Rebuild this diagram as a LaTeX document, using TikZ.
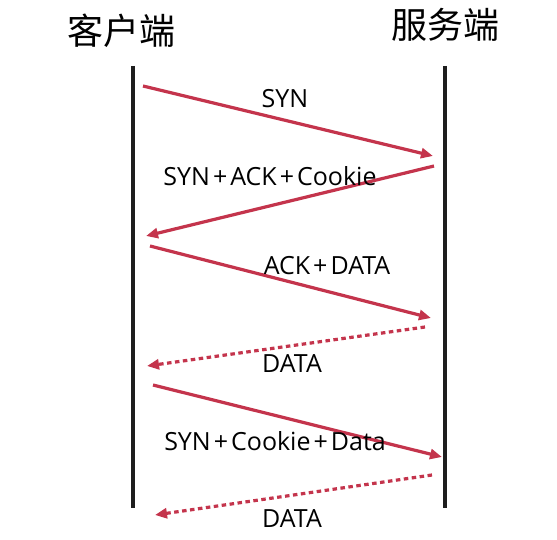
\documentclass[tikz,border=0pt]{standalone}
\usepackage{fontspec}
\setmainfont{Open Sans}
\newfontfamily\cjk{Noto Sans CJK SC}
\usetikzlibrary{arrows.meta}
\definecolor{arrowred}{RGB}{196,52,76}
\definecolor{lifegray}{RGB}{30,30,30}
\newcommand{\pl}{\kern3pt+\kern3pt}
\begin{document}
\begin{tikzpicture}[x=1pt,y=-1pt,
  lifeline/.style={draw=lifegray,line width=3.2pt},
  msg/.style={draw=arrowred,line width=3.2pt,-{Triangle[length=12pt,width=10pt]}},
  msgdot/.style={msg,dash pattern=on 4.5pt off 3.5pt},
  lbl/.style={font=\fontsize{25}{28}\selectfont,inner sep=0pt,anchor=base},
  title/.style={font=\cjk\fontsize{36}{40}\selectfont,inner sep=0pt}]
\useasboundingbox (0,0) rectangle (557,540);
\fill[white] (0,0) rectangle (557,540);
% titles
\node[title] (client) at (121,31) {客户端};
\node[title] (server) at (445,25) {服务端};
% lifelines
\coordinate (lt) at (133,66);
\coordinate (lb) at (133,508);
\coordinate (rt) at (445,66);
\coordinate (rb) at (445,508);
\draw[lifeline] (lt) -- (lb);
\draw[lifeline] (rt) -- (rb);
% arrow endpoints
\coordinate (a1s) at (143,86);  \coordinate (a1e) at (433,156);
\coordinate (a2s) at (434,166); \coordinate (a2e) at (146,236);
\coordinate (a3s) at (150,246); \coordinate (a3e) at (431,318);
\coordinate (a4s) at (425,327); \coordinate (a4e) at (147,366);
\coordinate (a5s) at (153,385); \coordinate (a5e) at (442,457);
\coordinate (a6s) at (432,475); \coordinate (a6e) at (155,515);
\draw[msg] (a1s) -- (a1e);
\draw[msg] (a2s) -- (a2e);
\draw[msg] (a3s) -- (a3e);
\draw[msgdot] (a4s) -- (a4e);
\draw[msg] (a5s) -- (a5e);
\draw[msgdot] (a6s) -- (a6e);
% labels
\node[lbl] (l1) at (285,108) {SYN};
\node[lbl] (l2) at (270,186) {SYN\pl ACK\pl Cookie};
\node[lbl] (l3) at (327,274) {ACK\pl DATA};
\node[lbl] (l4) at (292,372) {DATA};
\node[lbl] (l5) at (275,450) {SYN\pl Cookie\pl Data};
\node[lbl] (l6) at (292,527) {DATA};
\end{tikzpicture}
\end{document}
